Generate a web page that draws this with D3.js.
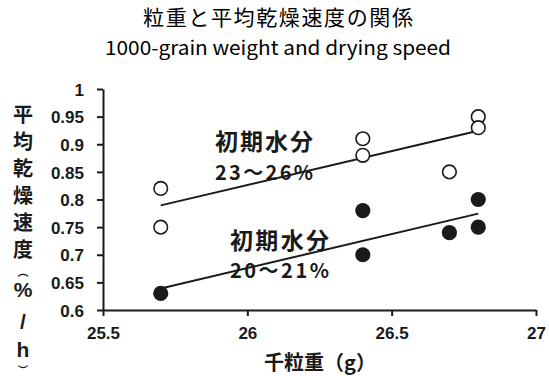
<!DOCTYPE html>
<html>
<head>
<meta charset="utf-8">
<script src="https://cdn.jsdelivr.net/npm/d3@7"></script>
<style>
  html, body { margin: 0; padding: 0; background: #fff; }
  svg { display: block; }
</style>
</head>
<body>
<div id="chart"></div>
<script>
// tick values and labels
const xTicks = [25.5, 26, 26.5, 27];
const xTickLabels = ["25.5", "26", "26.5", "27"];
const yTicks = [0.6, 0.65, 0.7, 0.75, 0.8, 0.85, 0.9, 0.95, 1];
const yTickLabels = ["0.6", "0.65", "0.7", "0.75", "0.8", "0.85", "0.9", "0.95", "1"];

// initial moisture 23-26% (open circles)
const highX = [25.7, 25.7, 26.4, 26.4, 26.7, 26.8, 26.8];
const highY = [0.82, 0.75, 0.91, 0.88, 0.85, 0.95, 0.93];

// initial moisture 20-21% (filled circles)
const lowX = [25.7, 26.4, 26.4, 26.7, 26.8, 26.8];
const lowY = [0.63, 0.78, 0.70, 0.74, 0.80, 0.75];

const W = 549, H = 376;
const cjk = "'Noto Sans CJK JP', 'Noto Sans CJK SC', sans-serif";
const num = "'Liberation Sans', Arial, sans-serif";

const svg = d3.select("#chart").append("svg")
  .attr("width", W).attr("height", H);

const x = d3.scaleLinear().domain([25.5, 27]).range([103, 536]);
const y = d3.scaleLinear().domain([0.6, 1]).range([310, 89]);

// least squares fit, drawn across the range of the data
function fit(xs, ys) {
  const mx = d3.mean(xs), my = d3.mean(ys);
  let sxy = 0, sxx = 0;
  xs.forEach((v, i) => { sxy += (v - mx) * (ys[i] - my); sxx += (v - mx) ** 2; });
  const b = sxy / sxx, a = my - b * mx;
  const [x0, x1] = d3.extent(xs);
  return [[x0, a + b * x0], [x1, a + b * x1]];
}

// titles
svg.append("text")
  .attr("x", 278).attr("y", 25)
  .attr("text-anchor", "middle")
  .style("font-family", cjk).style("font-size", "21px")
  .attr("textLength", 270).attr("lengthAdjust", "spacing")
  .text("粒重と平均乾燥速度の関係");

svg.append("text")
  .attr("x", 278).attr("y", 55)
  .attr("text-anchor", "middle")
  .style("font-family", cjk).style("font-size", "19px")
  .attr("textLength", 346).attr("lengthAdjust", "spacingAndGlyphs")
  .text("1000-grain weight and drying speed");

// axes
const xAxis = d3.axisBottom(x).tickValues(xTicks)
  .tickFormat((d, i) => xTickLabels[i]).tickSize(6).tickSizeOuter(0);
const yAxis = d3.axisLeft(y).tickValues(yTicks)
  .tickFormat((d, i) => yTickLabels[i]).tickSize(6).tickSizeOuter(0);

const gx = svg.append("g").attr("transform", "translate(0,310)").call(xAxis);
const gy = svg.append("g").attr("transform", "translate(103,0)").call(yAxis);

[gx, gy].forEach(g => {
  g.select(".domain").attr("stroke", "#1a1a1a").attr("stroke-width", 2);
  g.selectAll(".tick line").attr("stroke", "#1a1a1a").attr("stroke-width", 2);
  g.selectAll(".tick text")
    .attr("fill", "#1a1a1a")
    .style("font-family", num).style("font-size", "17px").style("font-weight", "bold");
});
gx.selectAll(".tick text").attr("dy", 0).attr("y", 29);
gy.selectAll(".tick text").attr("x", -19).attr("dy", "0.36em");

// axis titles
svg.append("text")
  .attr("x", 320).attr("y", 370)
  .attr("text-anchor", "middle")
  .attr("fill", "#1a1a1a")
  .style("font-family", cjk).style("font-size", "20px").style("font-weight", "bold")
  .text("千粒重（g）");

const yTitle = [["平", 113, 20], ["均", 140, 20], ["乾", 167, 20], ["燥", 194, 20],
  ["速", 221, 20], ["度", 248, 20], ["︵", 271, 11], ["%", 289, 21], ["/", 321, 21],
  ["h", 349, 21], ["︶", 369, 10]];
svg.append("g").selectAll("text").data(yTitle).join("text")
  .attr("x", 23).attr("y", d => d[1])
  .attr("text-anchor", "middle").attr("dominant-baseline", "central")
  .attr("fill", "#1a1a1a")
  .style("font-family", d => /[%\/h]/.test(d[0]) ? num : cjk)
  .style("font-size", d => d[2] + "px")
  .style("font-weight", "bold")
  .text(d => d[0]);

// trend lines
const line = d3.line().x(d => x(d[0])).y(d => y(d[1]));
[fit(highX, highY), fit(lowX, lowY)].forEach(seg => {
  svg.append("path").attr("d", line(seg))
    .attr("fill", "none").attr("stroke", "#1a1a1a").attr("stroke-width", 2);
});

// points
svg.append("g").selectAll("circle").data(highX.map((v, i) => [v, highY[i]])).join("circle")
  .attr("cx", d => x(d[0])).attr("cy", d => y(d[1])).attr("r", 6.8)
  .attr("fill", "#fff").attr("stroke", "#1a1a1a").attr("stroke-width", 1.6);

svg.append("g").selectAll("circle").data(lowX.map((v, i) => [v, lowY[i]])).join("circle")
  .attr("cx", d => x(d[0])).attr("cy", d => y(d[1])).attr("r", 7.6)
  .attr("fill", "#1a1a1a");

// annotations
const notes = [
  ["初期水分", 215, 150, 98, "23px"],
  ["23〜26%", 215, 180, 98, "20px"],
  ["初期水分", 230, 249, 99, "23px"],
  ["20〜21%", 230, 278, 99, "20px"]
];
svg.append("g").selectAll("text").data(notes).join("text")
  .attr("x", d => d[1]).attr("y", d => d[2])
  .attr("textLength", d => d[3]).attr("lengthAdjust", "spacing")
  .attr("fill", "#1a1a1a")
  .style("font-family", cjk).style("font-size", d => d[4]).style("font-weight", "bold")
  .text(d => d[0]);
</script>
</body>
</html>
